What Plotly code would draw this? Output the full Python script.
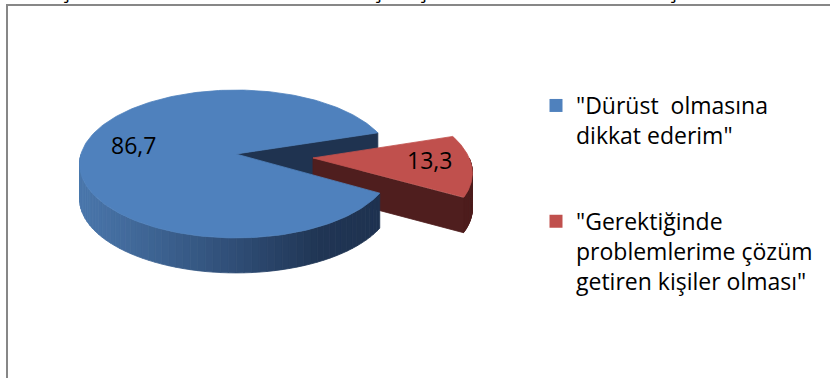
import numpy as np
import plotly.graph_objects as go

# ---------------- data ----------------
categories = ['"Dürüst  olmasına<br>dikkat ederim"',
              '"Gerektiğinde<br>problemlerime çözüm<br>getiren kişiler olması"']
values = [86.7, 13.3]
value_labels = ['86,7', '13,3']

# ---------------- style ----------------
W, H = 830, 378
CX, CY = 236, 154          # pie centre (pixels)
RA, RB = 155, 72.6         # ellipse radii
PERSP = 0.135              # perspective factor
DEPTH = 35                 # pie thickness
ROT = 17.7                 # start angle (deg) of first slice
EXPLODE = [0.0, 0.496]
LABEL_R = [0.67, 0.74]
TOP_COL = ['#4f81bd', '#c0504d']
CUT_COL = ['#1f3350', '#4f1e1e']
WALL_STOPS = [
    [(0.0, (74, 119, 172)), (0.5, (48, 79, 120)), (0.8, (32, 53, 84)), (1.0, (30, 50, 80))],
    [(0.0, (79, 30, 30)), (1.0, (79, 30, 30))],
]
FONT = "'Open Sans', sans-serif"
FS = 23


def proj(u, v, h=0.0):
    d = 1 + PERSP * v
    return CX + RA * u / d, CY - RB * v / d + h


def interp(stops, t):
    t = min(max(t, 0), 1)
    for (t0, c0), (t1, c1) in zip(stops[:-1], stops[1:]):
        if t <= t1:
            f = 0 if t1 == t0 else (t - t0) / (t1 - t0)
            c = [round(a + (b - a) * f) for a, b in zip(c0, c1)]
            return 'rgb(%d,%d,%d)' % tuple(c)
    return 'rgb(%d,%d,%d)' % stops[-1][1]


def poly(xs, ys, col):
    return go.Scatter(x=list(xs), y=list(ys), mode='lines', fill='toself',
                      fillcolor=col, line=dict(color=col, width=0.8),
                      hoverinfo='skip', showlegend=False)


total = sum(values)
slices = []
theta = ROT
for i, v in enumerate(values):
    a0, a1 = theta, theta + 360 * v / total
    theta = a1
    mid = np.radians((a0 + a1) / 2)
    ox, oy = EXPLODE[i] * np.cos(mid), EXPLODE[i] * np.sin(mid)
    slices.append(dict(a0=a0, a1=a1, mid=mid, ox=ox, oy=oy))

cut_traces, wall_traces, top_traces = [], [], []
annotations = []

for i, s in enumerate(slices):
    ox, oy = s['ox'], s['oy']
    # cut faces
    for ang, sign in ((s['a0'], -1), (s['a1'], 1)):
        normal = np.radians(ang + sign * 90)
        if np.sin(normal) < 0:
            r = np.radians(ang)
            ex, ey = ox + np.cos(r), oy + np.sin(r)
            p1 = proj(ox, oy)
            p2 = proj(ex, ey)
            p3 = proj(ex, ey, DEPTH)
            p4 = proj(ox, oy, DEPTH)
            cut_traces.append(poly([p1[0], p2[0], p3[0], p4[0], p1[0]],
                                   [p1[1], p2[1], p3[1], p4[1], p1[1]], CUT_COL[i]))
    # outer wall (front part only), in segments for shading
    ts = np.linspace(s['a0'], s['a1'], 400)
    front = ts[np.sin(np.radians(ts)) < 0]
    if len(front) > 1:
        xs_all = [proj(ox + np.cos(np.radians(t)), oy + np.sin(np.radians(t)))[0] for t in front]
        xmin, xmax = min(xs_all), max(xs_all)
        nseg = 60
        edges = np.linspace(front[0], front[-1], nseg + 1)
        for k in range(nseg):
            seg = np.linspace(edges[k], edges[k + 1], 6)
            top = [proj(ox + np.cos(np.radians(t)), oy + np.sin(np.radians(t))) for t in seg]
            bot = [proj(ox + np.cos(np.radians(t)), oy + np.sin(np.radians(t)), DEPTH) for t in seg[::-1]]
            pts = top + bot + [top[0]]
            xm = np.mean([p[0] for p in top])
            col = interp(WALL_STOPS[i], (xm - xmin) / (xmax - xmin))
            wall_traces.append(poly([p[0] for p in pts], [p[1] for p in pts], col))
    # top face
    arc = np.linspace(s['a0'], s['a1'], 240)
    pts = [proj(ox, oy)] + [proj(ox + np.cos(np.radians(t)), oy + np.sin(np.radians(t))) for t in arc] + [proj(ox, oy)]
    top_traces.append(poly([p[0] for p in pts], [p[1] for p in pts], TOP_COL[i]))
    # label
    lx, ly = proj(ox + LABEL_R[i] * np.cos(s['mid']), oy + LABEL_R[i] * np.sin(s['mid']))
    annotations.append(dict(x=lx, y=ly, xref='x', yref='y', text=value_labels[i], yshift=4,
                            showarrow=False, font=dict(size=FS, family=FONT, color='#000000')))

fig = go.Figure()
for t in cut_traces + wall_traces + top_traces:
    fig.add_trace(t)

# legend entries
for i, name in enumerate(categories):
    fig.add_trace(go.Scatter(x=[None], y=[None], mode='markers', name=name,
                             legendgroup='g%d' % i,
                             marker=dict(symbol='square', size=13, color=TOP_COL[i])))

# cut-off text fragments (cedillas of the line above)
for xc in [66, 378, 423, 673]:
    annotations.append(dict(x=xc, y=6, xref='x', yref='y', yanchor='bottom', text='ş',
                            showarrow=False, font=dict(size=22, family=FONT, color='#000000')))

fig.update_layout(
    width=W, height=H,
    margin=dict(l=0, r=0, t=0, b=0),
    paper_bgcolor='white', plot_bgcolor='white',
    xaxis=dict(range=[0, W], visible=False, fixedrange=True),
    yaxis=dict(range=[H, 0], visible=False, fixedrange=True),
    showlegend=True,
    legend=dict(x=536 / W, y=1 - 84 / H, xanchor='left', yanchor='top',
                font=dict(size=FS, family=FONT, color='#000000'),
                tracegroupgap=53, valign='top', bgcolor='rgba(0,0,0,0)',
                itemclick=False, itemdoubleclick=False),
    annotations=annotations,
    shapes=[dict(type='rect', xref='x', yref='y', x0=7, x1=W + 20, y0=5, y1=H + 20,
                 line=dict(color='#878787', width=2), layer='below')],
)

fig.write_html("out.html", config={'displayModeBar': False},
               post_script="document.body.style.margin='0px';document.body.style.overflow='hidden';")
